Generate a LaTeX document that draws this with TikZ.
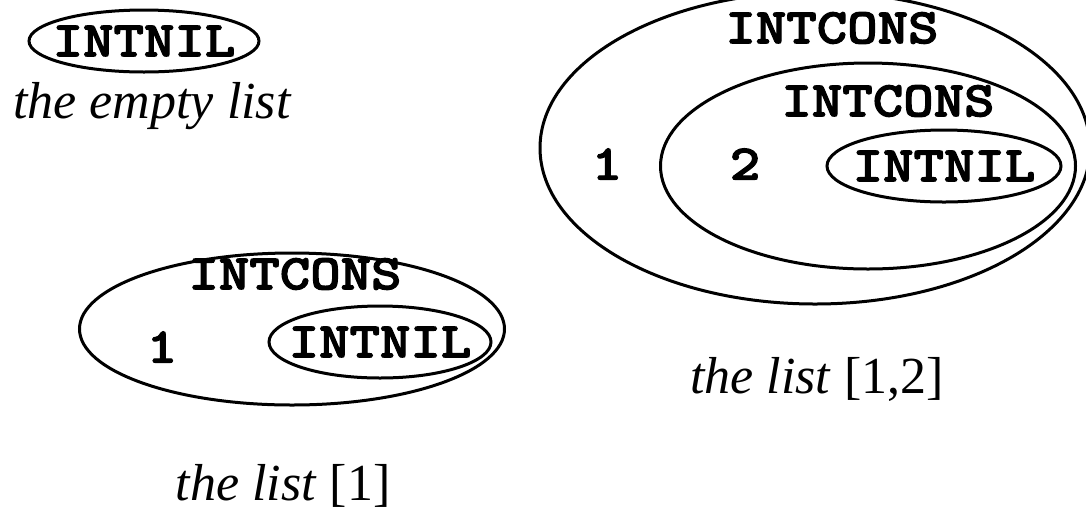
\documentclass[tikz,border=0pt]{standalone}
\usepackage{fontspec}
\setmainfont{Liberation Serif}
\newfontfamily\consfont{lmmonolt10-bold}[Extension=.otf, FakeBold=2.2, FakeStretch=1.16]
\usetikzlibrary{shapes.geometric, positioning}

\begin{document}
\begin{tikzpicture}[x=1pt, y=-1pt,
  every node/.style={inner sep=0pt},
  shell/.style={draw, ellipse, line width=3pt},
  cons/.style={font=\consfont\fontsize{50}{50}\selectfont},
  caption/.style={font=\fontsize{52}{52}\selectfont\itshape, anchor=base}
]
  \useasboundingbox (0,0) rectangle (1086,515);
  \clip (0,0) rectangle (1086,515);

  % the empty list
  \node[shell, minimum width=230pt, minimum height=62pt] (nilA) at (144,41) {};
  \node[cons] (nilAtxt) at (nilA) {INTNIL};
  \node[caption] (capA) at (152,118) {the empty list};

  % the list [1]
  \node[shell, minimum width=425pt, minimum height=152pt] (consB) at (292,329) {};
  \node[cons] (consBtxt) at (295,274) {INTCONS};
  \node[cons] (oneB) at (162,347) {1};
  \node[shell, minimum width=222pt, minimum height=72pt] (nilB) at (380,342) {};
  \node[cons] (nilBtxt) at (nilB) {INTNIL};
  \node[caption] (capB) at (283,500) {the list \textup{[1]}};

  % the list [1,2]
  \node[shell, minimum width=550pt, minimum height=312pt] (consC) at (815,148) {};
  \node[cons] (consCtxt) at (832,28) {INTCONS};
  \node[cons] (oneC) at (607,164) {1};
  \node[shell, minimum width=415pt, minimum height=206pt] (consD) at (868,166) {};
  \node[cons] (consDtxt) at (888,101) {INTCONS};
  \node[cons] (twoC) at (745,164) {2};
  \node[shell, minimum width=234pt, minimum height=72pt] (nilC) at (944,166) {};
  \node[cons] (nilCtxt) at (nilC) {INTNIL};
  \node[caption] (capC) at (817,393) {the list \textup{[1,2]}};
\end{tikzpicture}
\end{document}
